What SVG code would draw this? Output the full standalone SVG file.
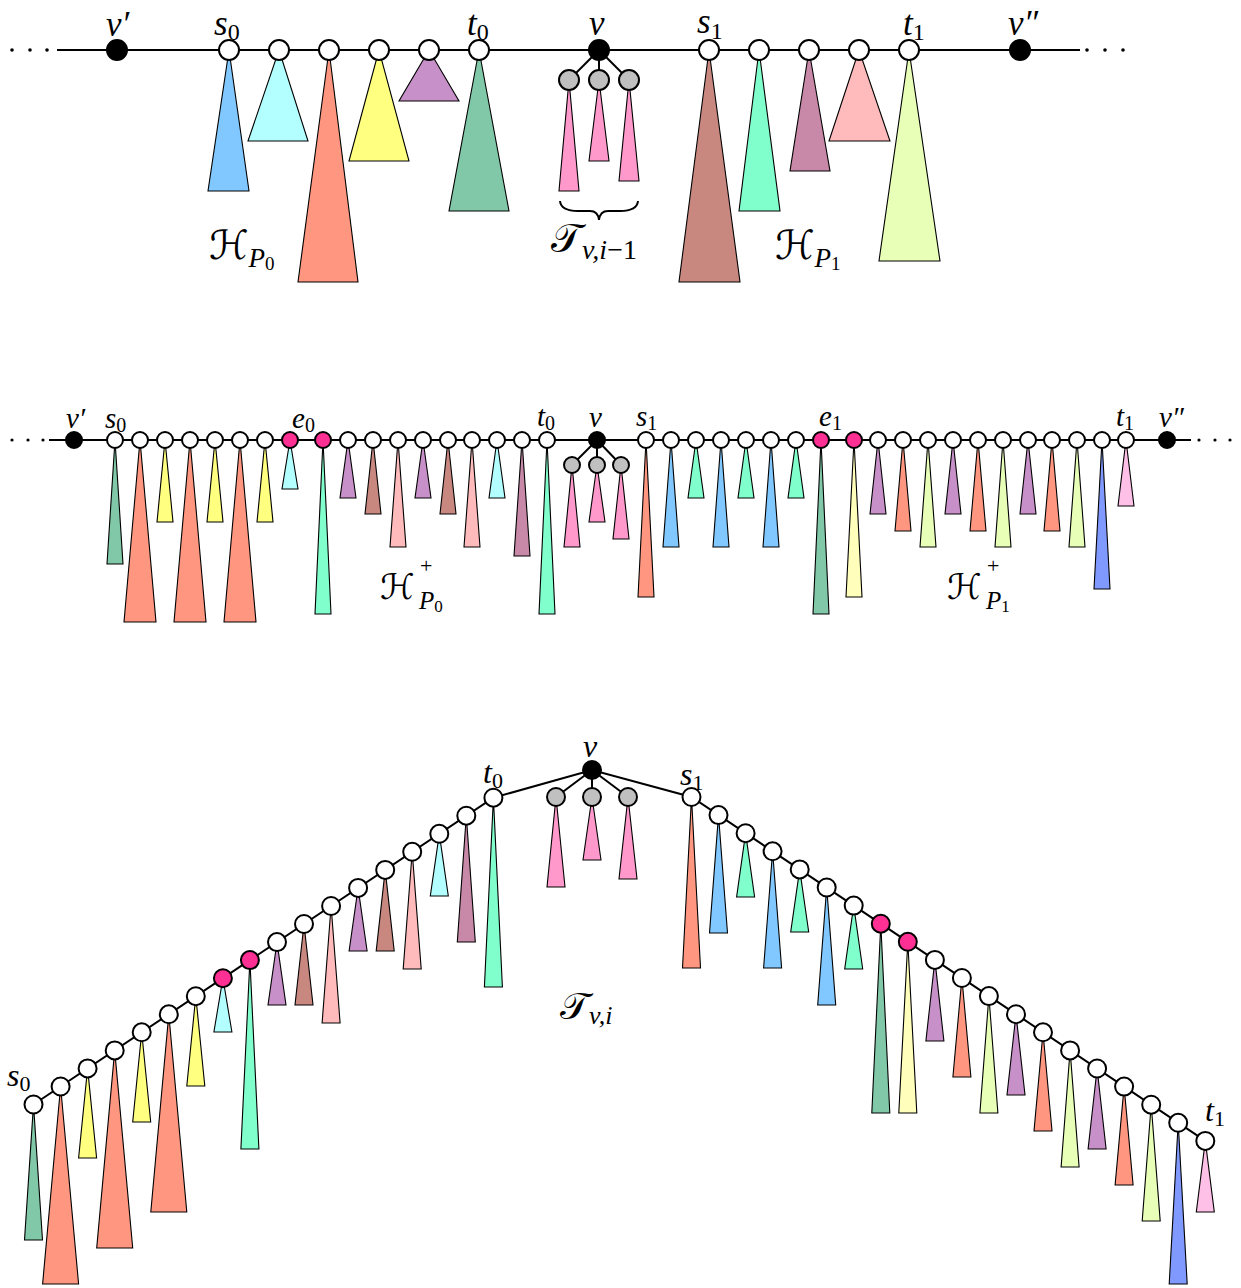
<svg xmlns="http://www.w3.org/2000/svg" width="1241" height="1288" viewBox="0 0 1241 1288">
<style>
.tr{stroke:#000;stroke-width:1.1;stroke-linejoin:miter}
.blue{fill:#80C8FF}.cyan{fill:#B3FFFF}.salmon{fill:#FF9680}.yellow{fill:#FFFF80}
.purple{fill:#C890C8}.green{fill:#80C8A8}.pink{fill:#FF99CC}.brown{fill:#C88880}
.mint{fill:#80FFCC}.mauve{fill:#C888A8}.lpink{fill:#FFBBBB}.yg{fill:#E8FFB8}
.lyel{fill:#FFFFBB}.peri{fill:#8099FF}.pink2{fill:#FFC0E8}
.w{fill:#fff;stroke:#000;stroke-width:2}
.b{fill:#000;stroke:#000;stroke-width:2}
.g{fill:#C0C0C0;stroke:#000;stroke-width:2}
.m{fill:#FF3094;stroke:#000;stroke-width:2}
.e{stroke:#000;stroke-width:2;fill:none}
.lbl{font-family:"Liberation Serif","DejaVu Serif",serif;font-style:italic;fill:#000}
.sub{font-style:normal}
.cal{font-family:"DejaVu Serif","DejaVu Sans","Noto Sans",serif;font-style:normal;fill:#000}
</style>

<!-- ================= TOP SECTION ================= -->
<g id="top-subtrees">
<polygon class="tr blue" points="229,50 208,191 249,191"/>
<polygon class="tr cyan" points="279,50 248,141 308,141"/>
<polygon class="tr salmon" points="329,50 298,282 358,282"/>
<polygon class="tr yellow" points="379,50 349,161 409,161"/>
<polygon class="tr purple" points="429,50 399,101 459,101"/>
<polygon class="tr green" points="479,50 449,211 509,211"/>
<polygon class="tr pink" points="569,80 559,191 579,191"/>
<polygon class="tr pink" points="599,80 589,161 609,161"/>
<polygon class="tr pink" points="629,80 619,181 639,181"/>
<polygon class="tr brown" points="709,50 679,282 740,282"/>
<polygon class="tr mint" points="759,50 739,211 780,211"/>
<polygon class="tr mauve" points="809,50 790,171 830,171"/>
<polygon class="tr lpink" points="859,50 829,141 890,141"/>
<polygon class="tr yg" points="909,50 879,261 940,261"/>
</g>
<g id="top-connectors">
<line class="e" x1="57" y1="50" x2="1080" y2="50"/>
<line class="e" x1="599" y1="50" x2="569" y2="80"/>
<line class="e" x1="599" y1="50" x2="599" y2="80"/>
<line class="e" x1="599" y1="50" x2="629" y2="80"/>
<circle cx="12" cy="50" r="1.8"/><circle cx="30" cy="50" r="1.8"/><circle cx="47" cy="50" r="1.8"/>
<circle cx="1087" cy="50" r="1.8"/><circle cx="1105" cy="50" r="1.8"/><circle cx="1123" cy="50" r="1.8"/>
<path class="e" stroke-width="2.8" d="M560 201 Q561 211 578 211 L590 211 Q598 211 599 220 Q600 211 608 211 L620 211 Q637 211 638 201"/>
</g>
<g id="top-nodes">
<g id="t-vp"><circle class="b" cx="117" cy="50" r="10"/><text class="lbl" x="106" y="36" font-size="35">v′</text></g>
<g id="t-s0"><circle class="w" cx="229" cy="50" r="10"/><text class="lbl" x="214" y="35" font-size="35">s<tspan class="sub" font-size="24" dy="5">0</tspan></text></g>
<g id="t-n1"><circle class="w" cx="279" cy="50" r="10"/></g>
<g id="t-n2"><circle class="w" cx="329" cy="50" r="10"/></g>
<g id="t-n3"><circle class="w" cx="379" cy="50" r="10"/></g>
<g id="t-n4"><circle class="w" cx="429" cy="50" r="10"/></g>
<g id="t-t0"><circle class="w" cx="479" cy="50" r="10"/><text class="lbl" x="467" y="35" font-size="35">t<tspan class="sub" font-size="24" dy="5">0</tspan></text></g>
<g id="t-v"><circle class="b" cx="599" cy="50" r="10"/><text class="lbl" x="589" y="35" font-size="35">v</text></g>
<g id="t-c1"><circle class="g" cx="569" cy="80" r="10"/></g>
<g id="t-c2"><circle class="g" cx="599" cy="80" r="10"/></g>
<g id="t-c3"><circle class="g" cx="629" cy="80" r="10"/></g>
<g id="t-s1"><circle class="w" cx="709" cy="50" r="10"/><text class="lbl" x="697" y="33" font-size="35">s<tspan class="sub" font-size="24" dy="6">1</tspan></text></g>
<g id="t-m1"><circle class="w" cx="759" cy="50" r="10"/></g>
<g id="t-m2"><circle class="w" cx="809" cy="50" r="10"/></g>
<g id="t-m3"><circle class="w" cx="859" cy="50" r="10"/></g>
<g id="t-t1"><circle class="w" cx="909" cy="50" r="10"/><text class="lbl" x="903" y="35" font-size="35">t<tspan class="sub" font-size="24" dy="5">1</tspan></text></g>
<g id="t-vpp"><circle class="b" cx="1020" cy="50" r="10"/><text class="lbl" x="1008" y="35" font-size="35">v″</text></g>
</g>
<g id="top-labels">
<text class="cal" x="209" y="259" font-size="40">ℋ<tspan class="lbl" font-size="27" dy="8">P</tspan><tspan class="lbl sub" font-size="19" dy="3">0</tspan></text>
<text class="cal" x="551" y="252" font-size="40">𝒯<tspan class="lbl" font-size="28" dy="7">v</tspan><tspan class="lbl" font-size="28">,</tspan><tspan class="lbl" font-size="28">i</tspan><tspan class="lbl sub" font-size="28">−1</tspan></text>
<text class="cal" x="775" y="259" font-size="40">ℋ<tspan class="lbl" font-size="27" dy="8">P</tspan><tspan class="lbl sub" font-size="19" dy="3">1</tspan></text>
</g>

<!-- ================= MIDDLE SECTION ================= -->
<g id="mid-subtrees">
<polygon class="tr green" points="115,440 107,564 123,564"/>
<polygon class="tr salmon" points="140,440 124,622 156,622"/>
<polygon class="tr yellow" points="165,440 157,522 173,522"/>
<polygon class="tr salmon" points="190,440 174,622 206,622"/>
<polygon class="tr yellow" points="215,440 207,522 223,522"/>
<polygon class="tr salmon" points="240,440 224,622 256,622"/>
<polygon class="tr yellow" points="265,440 257,522 273,522"/>
<polygon class="tr cyan" points="290,440 282,489 298,489"/>
<polygon class="tr mint" points="323,440 315,614 331,614"/>
<polygon class="tr purple" points="348,440 340,498 356,498"/>
<polygon class="tr brown" points="373,440 365,514 381,514"/>
<polygon class="tr lpink" points="398,440 390,547 406,547"/>
<polygon class="tr purple" points="423,440 415,498 431,498"/>
<polygon class="tr brown" points="448,440 440,514 456,514"/>
<polygon class="tr lpink" points="472,440 464,547 480,547"/>
<polygon class="tr cyan" points="497,440 489,498 505,498"/>
<polygon class="tr mauve" points="522,440 514,556 530,556"/>
<polygon class="tr mint" points="547,440 539,614 555,614"/>
<polygon class="tr pink" points="572,465 564,547 580,547"/>
<polygon class="tr pink" points="597,465 589,522 605,522"/>
<polygon class="tr pink" points="621,465 613,539 629,539"/>
<polygon class="tr salmon" points="646,440 638,597 654,597"/>
<polygon class="tr blue" points="671,440 663,547 679,547"/>
<polygon class="tr mint" points="696,440 688,498 704,498"/>
<polygon class="tr blue" points="721,440 713,547 729,547"/>
<polygon class="tr mint" points="746,440 738,498 754,498"/>
<polygon class="tr blue" points="771,440 763,547 779,547"/>
<polygon class="tr mint" points="796,440 788,498 804,498"/>
<polygon class="tr green" points="821,440 813,614 829,614"/>
<polygon class="tr lyel" points="854,440 846,597 862,597"/>
<polygon class="tr purple" points="878,440 870,514 886,514"/>
<polygon class="tr salmon" points="903,440 895,531 911,531"/>
<polygon class="tr yg" points="928,440 920,547 936,547"/>
<polygon class="tr purple" points="953,440 945,514 961,514"/>
<polygon class="tr salmon" points="978,440 970,531 986,531"/>
<polygon class="tr yg" points="1003,440 995,547 1011,547"/>
<polygon class="tr purple" points="1028,440 1020,514 1036,514"/>
<polygon class="tr salmon" points="1052,440 1044,531 1060,531"/>
<polygon class="tr yg" points="1077,440 1069,547 1085,547"/>
<polygon class="tr peri" points="1102,440 1094,589 1110,589"/>
<polygon class="tr pink2" points="1126,440 1118,506 1134,506"/>
</g>
<g id="mid-connectors">
<line class="e" x1="49" y1="440" x2="1191" y2="440"/>
<line class="e" x1="597" y1="440" x2="572" y2="465"/>
<line class="e" x1="597" y1="440" x2="597" y2="465"/>
<line class="e" x1="597" y1="440" x2="621" y2="465"/>
<circle cx="12" cy="440" r="1.6"/><circle cx="28" cy="440" r="1.6"/><circle cx="43" cy="440" r="1.6"/>
<circle cx="1199" cy="440" r="1.6"/><circle cx="1215" cy="440" r="1.6"/><circle cx="1230" cy="440" r="1.6"/>
</g>
<g id="mid-nodes">
<g id="m-vp"><circle class="b" cx="74" cy="440" r="8"/><text class="lbl" x="66" y="428" font-size="29">v′</text></g>
<g id="m-s0"><circle class="w" cx="115" cy="440" r="8"/><text class="lbl" x="105" y="428" font-size="29">s<tspan class="sub" font-size="20" dy="4">0</tspan></text></g>
<g id="m-l1"><circle class="w" cx="140" cy="440" r="8"/></g>
<g id="m-l2"><circle class="w" cx="165" cy="440" r="8"/></g>
<g id="m-l3"><circle class="w" cx="190" cy="440" r="8"/></g>
<g id="m-l4"><circle class="w" cx="215" cy="440" r="8"/></g>
<g id="m-l5"><circle class="w" cx="240" cy="440" r="8"/></g>
<g id="m-l6"><circle class="w" cx="265" cy="440" r="8"/></g>
<g id="m-e0a"><circle class="m" cx="290" cy="440" r="8"/></g>
<g id="m-e0b"><circle class="m" cx="323" cy="440" r="8"/><text class="lbl" x="292" y="428" font-size="29">e<tspan class="sub" font-size="20" dy="4">0</tspan></text></g>
<g id="m-l7"><circle class="w" cx="348" cy="440" r="8"/></g>
<g id="m-l8"><circle class="w" cx="373" cy="440" r="8"/></g>
<g id="m-l9"><circle class="w" cx="398" cy="440" r="8"/></g>
<g id="m-l10"><circle class="w" cx="423" cy="440" r="8"/></g>
<g id="m-l11"><circle class="w" cx="448" cy="440" r="8"/></g>
<g id="m-l12"><circle class="w" cx="472" cy="440" r="8"/></g>
<g id="m-l13"><circle class="w" cx="497" cy="440" r="8"/></g>
<g id="m-l14"><circle class="w" cx="522" cy="440" r="8"/></g>
<g id="m-t0"><circle class="w" cx="547" cy="440" r="8"/><text class="lbl" x="537" y="426" font-size="29">t<tspan class="sub" font-size="20" dy="4">0</tspan></text></g>
<g id="m-v"><circle class="b" cx="597" cy="440" r="8"/><text class="lbl" x="589" y="427" font-size="29">v</text></g>
<g id="m-c1"><circle class="g" cx="572" cy="465" r="8"/></g>
<g id="m-c2"><circle class="g" cx="597" cy="465" r="8"/></g>
<g id="m-c3"><circle class="g" cx="621" cy="465" r="8"/></g>
<g id="m-s1"><circle class="w" cx="646" cy="440" r="8"/><text class="lbl" x="636" y="426" font-size="29">s<tspan class="sub" font-size="20" dy="4">1</tspan></text></g>
<g id="m-r1"><circle class="w" cx="671" cy="440" r="8"/></g>
<g id="m-r2"><circle class="w" cx="696" cy="440" r="8"/></g>
<g id="m-r3"><circle class="w" cx="721" cy="440" r="8"/></g>
<g id="m-r4"><circle class="w" cx="746" cy="440" r="8"/></g>
<g id="m-r5"><circle class="w" cx="771" cy="440" r="8"/></g>
<g id="m-r6"><circle class="w" cx="796" cy="440" r="8"/></g>
<g id="m-e1a"><circle class="m" cx="821" cy="440" r="8"/><text class="lbl" x="819" y="426" font-size="29">e<tspan class="sub" font-size="20" dy="4">1</tspan></text></g>
<g id="m-e1b"><circle class="m" cx="854" cy="440" r="8"/></g>
<g id="m-r7"><circle class="w" cx="878" cy="440" r="8"/></g>
<g id="m-r8"><circle class="w" cx="903" cy="440" r="8"/></g>
<g id="m-r9"><circle class="w" cx="928" cy="440" r="8"/></g>
<g id="m-r10"><circle class="w" cx="953" cy="440" r="8"/></g>
<g id="m-r11"><circle class="w" cx="978" cy="440" r="8"/></g>
<g id="m-r12"><circle class="w" cx="1003" cy="440" r="8"/></g>
<g id="m-r13"><circle class="w" cx="1028" cy="440" r="8"/></g>
<g id="m-r14"><circle class="w" cx="1052" cy="440" r="8"/></g>
<g id="m-r15"><circle class="w" cx="1077" cy="440" r="8"/></g>
<g id="m-r16"><circle class="w" cx="1102" cy="440" r="8"/></g>
<g id="m-t1"><circle class="w" cx="1126" cy="440" r="8"/><text class="lbl" x="1116" y="426" font-size="29">t<tspan class="sub" font-size="20" dy="4">1</tspan></text></g>
<g id="m-vpp"><circle class="b" cx="1167" cy="440" r="8"/><text class="lbl" x="1159" y="427" font-size="29">v″</text></g>
</g>
<g id="mid-labels">
<text class="cal" x="380" y="599" font-size="35">ℋ</text>
<text class="lbl sub" x="420" y="573" font-size="22">+</text>
<text class="lbl" x="419" y="609" font-size="25">P<tspan class="sub" font-size="17" dy="3">0</tspan></text>
<text class="cal" x="947" y="599" font-size="35">ℋ</text>
<text class="lbl sub" x="987" y="573" font-size="22">+</text>
<text class="lbl" x="986" y="609" font-size="25">P<tspan class="sub" font-size="17" dy="3">1</tspan></text>
</g>

<!-- ================= BOTTOM SECTION ================= -->
<g id="bot-subtrees">
<polygon class="tr green" points="33.5,1104.5 24.5,1240 42.5,1240"/>
<polygon class="tr salmon" points="60.6,1086.5 42.6,1284 78.6,1284"/>
<polygon class="tr yellow" points="87.6,1068.4 78.6,1158 96.6,1158"/>
<polygon class="tr salmon" points="114.7,1050.4 96.7,1248 132.7,1248"/>
<polygon class="tr yellow" points="141.7,1032.3 132.7,1122 150.7,1122"/>
<polygon class="tr salmon" points="168.8,1014.3 150.8,1212 186.8,1212"/>
<polygon class="tr yellow" points="195.8,996.2 186.8,1086 204.8,1086"/>
<polygon class="tr cyan" points="222.9,978.2 213.9,1032 231.9,1032"/>
<polygon class="tr mint" points="249.9,960.1 240.9,1149 258.9,1149"/>
<polygon class="tr purple" points="277,942.1 268,1005 286,1005"/>
<polygon class="tr brown" points="304,924 295,1005 313,1005"/>
<polygon class="tr lpink" points="331.1,906 322.1,1023 340.1,1023"/>
<polygon class="tr purple" points="358.1,887.9 349.1,951 367.1,951"/>
<polygon class="tr brown" points="385.2,869.9 376.2,951 394.2,951"/>
<polygon class="tr lpink" points="412.2,851.8 403.2,969 421.2,969"/>
<polygon class="tr cyan" points="439.3,833.8 430.3,896 448.3,896"/>
<polygon class="tr mauve" points="466.3,815.7 457.3,942 475.3,942"/>
<polygon class="tr mint" points="493.4,797.7 484.4,987 502.4,987"/>
<polygon class="tr pink" points="556,797 547,887 565,887"/>
<polygon class="tr pink" points="592,797 583,860 601,860"/>
<polygon class="tr pink" points="628,797 619,879 637,879"/>
<polygon class="tr salmon" points="691.5,797 682.5,968 700.5,968"/>
<polygon class="tr blue" points="718.5,815.1 709.5,933 727.5,933"/>
<polygon class="tr mint" points="745.6,833.2 736.6,897 754.6,897"/>
<polygon class="tr blue" points="772.6,851.3 763.6,968 781.6,968"/>
<polygon class="tr mint" points="799.7,869.4 790.7,932 808.7,932"/>
<polygon class="tr blue" points="826.7,887.5 817.7,1005 835.7,1005"/>
<polygon class="tr mint" points="853.7,905.6 844.7,969 862.7,969"/>
<polygon class="tr green" points="880.8,923.7 871.8,1113 889.8,1113"/>
<polygon class="tr lyel" points="907.8,941.8 898.8,1113 916.8,1113"/>
<polygon class="tr purple" points="934.9,959.9 925.9,1041 943.9,1041"/>
<polygon class="tr salmon" points="961.9,978 952.9,1077 970.9,1077"/>
<polygon class="tr yg" points="988.9,996.1 979.9,1113 997.9,1113"/>
<polygon class="tr purple" points="1016,1014.2 1007,1095 1025,1095"/>
<polygon class="tr salmon" points="1043,1032.3 1034,1131 1052,1131"/>
<polygon class="tr yg" points="1070.1,1050.4 1061.1,1167 1079.1,1167"/>
<polygon class="tr purple" points="1097.1,1068.5 1088.1,1149 1106.1,1149"/>
<polygon class="tr salmon" points="1124.1,1086.6 1115.1,1185 1133.1,1185"/>
<polygon class="tr yg" points="1151.2,1104.7 1142.2,1221 1160.2,1221"/>
<polygon class="tr peri" points="1178.2,1122.8 1169.2,1284 1187.2,1284"/>
<polygon class="tr pink2" points="1205.3,1140.9 1196.3,1212 1214.3,1212"/>
</g>
<g id="bot-connectors">
<polyline class="e" points="33.5,1104.5 493.4,797.7 592,770 691.5,797 1205.3,1140.9"/>
<line class="e" x1="592" y1="770" x2="556" y2="797"/>
<line class="e" x1="592" y1="770" x2="592" y2="797"/>
<line class="e" x1="592" y1="770" x2="628" y2="797"/>
</g>
<g id="bot-nodes">
<g id="b-s0"><circle class="w" cx="33.5" cy="1104.5" r="9"/><text class="lbl" x="7" y="1086" font-size="32">s<tspan class="sub" font-size="22" dy="5">0</tspan></text></g>
<g id="b-l1"><circle class="w" cx="60.6" cy="1086.5" r="9"/></g>
<g id="b-l2"><circle class="w" cx="87.6" cy="1068.4" r="9"/></g>
<g id="b-l3"><circle class="w" cx="114.7" cy="1050.4" r="9"/></g>
<g id="b-l4"><circle class="w" cx="141.7" cy="1032.3" r="9"/></g>
<g id="b-l5"><circle class="w" cx="168.8" cy="1014.3" r="9"/></g>
<g id="b-l6"><circle class="w" cx="195.8" cy="996.2" r="9"/></g>
<g id="b-e0a"><circle class="m" cx="222.9" cy="978.2" r="9"/></g>
<g id="b-e0b"><circle class="m" cx="249.9" cy="960.1" r="9"/></g>
<g id="b-l7"><circle class="w" cx="277" cy="942.1" r="9"/></g>
<g id="b-l8"><circle class="w" cx="304" cy="924" r="9"/></g>
<g id="b-l9"><circle class="w" cx="331.1" cy="906" r="9"/></g>
<g id="b-l10"><circle class="w" cx="358.1" cy="887.9" r="9"/></g>
<g id="b-l11"><circle class="w" cx="385.2" cy="869.9" r="9"/></g>
<g id="b-l12"><circle class="w" cx="412.2" cy="851.8" r="9"/></g>
<g id="b-l13"><circle class="w" cx="439.3" cy="833.8" r="9"/></g>
<g id="b-l14"><circle class="w" cx="466.3" cy="815.7" r="9"/></g>
<g id="b-t0"><circle class="w" cx="493.4" cy="797.7" r="9"/><text class="lbl" x="483" y="783" font-size="32">t<tspan class="sub" font-size="22" dy="5">0</tspan></text></g>
<g id="b-v"><circle class="b" cx="592" cy="770" r="9"/><text class="lbl" x="583" y="757" font-size="32">v</text></g>
<g id="b-c1"><circle class="g" cx="556" cy="797" r="9"/></g>
<g id="b-c2"><circle class="g" cx="592" cy="797" r="9"/></g>
<g id="b-c3"><circle class="g" cx="628" cy="797" r="9"/></g>
<g id="b-s1"><circle class="w" cx="691.5" cy="797" r="9"/><text class="lbl" x="680" y="785" font-size="32">s<tspan class="sub" font-size="22" dy="5">1</tspan></text></g>
<g id="b-r1"><circle class="w" cx="718.5" cy="815.1" r="9"/></g>
<g id="b-r2"><circle class="w" cx="745.6" cy="833.2" r="9"/></g>
<g id="b-r3"><circle class="w" cx="772.6" cy="851.3" r="9"/></g>
<g id="b-r4"><circle class="w" cx="799.7" cy="869.4" r="9"/></g>
<g id="b-r5"><circle class="w" cx="826.7" cy="887.5" r="9"/></g>
<g id="b-r6"><circle class="w" cx="853.7" cy="905.6" r="9"/></g>
<g id="b-e1a"><circle class="m" cx="880.8" cy="923.7" r="9"/></g>
<g id="b-e1b"><circle class="m" cx="907.8" cy="941.8" r="9"/></g>
<g id="b-r7"><circle class="w" cx="934.9" cy="959.9" r="9"/></g>
<g id="b-r8"><circle class="w" cx="961.9" cy="978" r="9"/></g>
<g id="b-r9"><circle class="w" cx="988.9" cy="996.1" r="9"/></g>
<g id="b-r10"><circle class="w" cx="1016" cy="1014.2" r="9"/></g>
<g id="b-r11"><circle class="w" cx="1043" cy="1032.3" r="9"/></g>
<g id="b-r12"><circle class="w" cx="1070.1" cy="1050.4" r="9"/></g>
<g id="b-r13"><circle class="w" cx="1097.1" cy="1068.5" r="9"/></g>
<g id="b-r14"><circle class="w" cx="1124.1" cy="1086.6" r="9"/></g>
<g id="b-r15"><circle class="w" cx="1151.2" cy="1104.7" r="9"/></g>
<g id="b-r16"><circle class="w" cx="1178.2" cy="1122.8" r="9"/></g>
<g id="b-t1"><circle class="w" cx="1205.3" cy="1140.9" r="9"/><text class="lbl" x="1205" y="1121" font-size="32">t<tspan class="sub" font-size="22" dy="5">1</tspan></text></g>
</g>
<g id="bot-labels">
<text class="cal" x="560" y="1019" font-size="38">𝒯<tspan class="lbl" font-size="26" dy="5">v</tspan><tspan class="lbl" font-size="26">,</tspan><tspan class="lbl" font-size="26">i</tspan></text>
</g>
</svg>
